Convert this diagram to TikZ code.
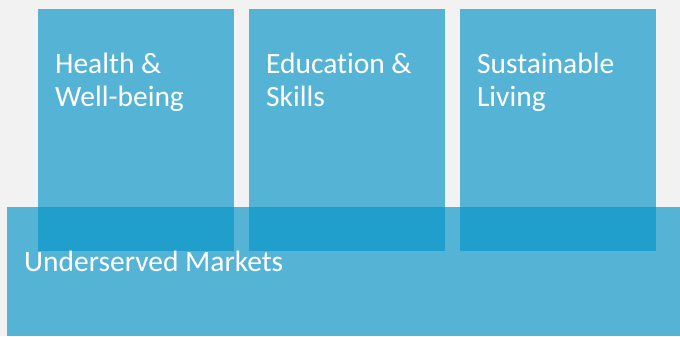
\documentclass[tikz,border=0pt]{standalone}
\usepackage{fontspec}
\setmainfont[Ligatures=NoCommon]{Carlito}
\definecolor{seablue}{RGB}{8,150,200}
\begin{document}
\begin{tikzpicture}[x=1pt,y=-1pt,
  tile/.style={fill=seablue,fill opacity=0.67,draw=none,inner sep=0pt,anchor=north west},
  caption/.style={text=white,font=\fontsize{29.5}{33}\selectfont,align=left,anchor=base west,inner sep=0pt}]
\fill[gray!10] (0,0) rectangle (680,336);
% three theme tiles
\foreach \x/\name in {38/health,249/education,460/living}
\node[tile,minimum width=196pt,minimum height=242pt] (\name) at (\x,9) {};
% wide base strip
\node[tile,minimum width=673pt,minimum height=129pt] (markets) at (7,207) {};
% captions (base = last line)
\foreach \name/\dy/\txt in {health/98/{Health \&\\Well-being},education/98/{Education \&\\Skills},living/98/{Sustainable\\Living},markets/65/{Underserved Markets}}
\node[caption] (\name-text) at ([shift={(17,\dy)}]\name.north west) {\txt};
\end{tikzpicture}
\end{document}
